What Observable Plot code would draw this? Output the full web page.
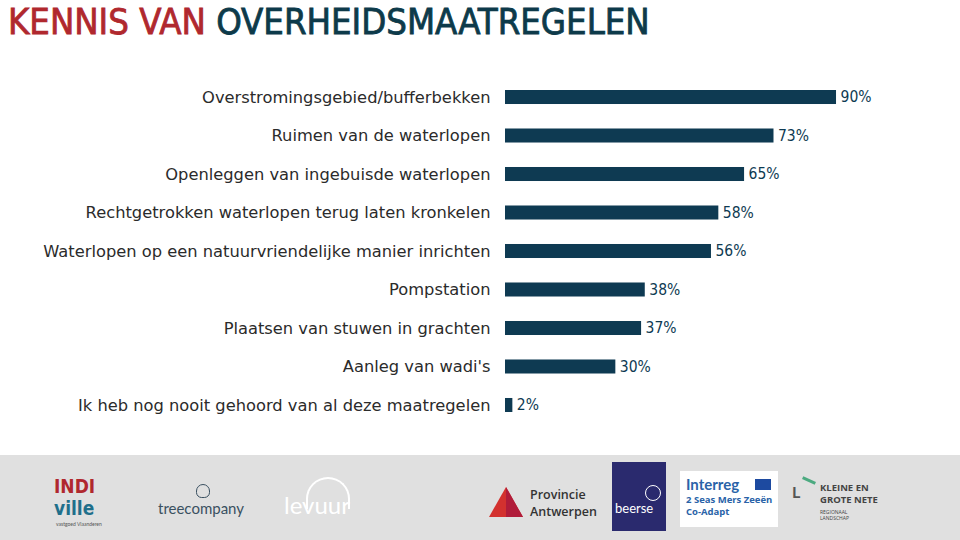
<!DOCTYPE html>
<html><head><meta charset="utf-8">
<script src="https://cdn.jsdelivr.net/npm/d3@7"></script>
<script src="https://cdn.jsdelivr.net/npm/@observablehq/plot@0.6"></script>
<style>
body{margin:0;width:960px;height:540px;overflow:hidden;background:#fff;position:relative;font-family:"DejaVu Sans",sans-serif}
#title{position:absolute;left:8px;top:0px;font-family:"DejaVu Sans Condensed",sans-serif;font-size:36.2px;line-height:normal;white-space:nowrap;-webkit-text-stroke:0.8px currentColor}
#chart{position:absolute;left:0;top:0}
#band{position:absolute;left:0;top:455px;width:960px;height:85px;background:#e0e0e0}
.lg{position:absolute;white-space:nowrap}
</style></head><body>
<div id="chart"></div>
<div id="title"><span style="color:#b0282e">KENNIS VAN</span> <span style="color:#0d3a4a">OVERHEIDSMAATREGELEN</span></div>
<div id="band">
  <div class="lg" style="left:54px;top:21px;font:bold 19px/20px 'DejaVu Sans Condensed';color:#b0282e">INDI</div>
  <div class="lg" style="left:54px;top:43px;font:bold 19px/20px 'DejaVu Sans Condensed';color:#1f6f8b">ville</div>
  <div class="lg" style="left:56px;top:66px;font:5px/6px Lato;color:#555">vastgoed Vlaanderen</div>
  <div class="lg" style="left:196px;top:29px;width:12px;height:12px;border:1.5px solid #3a5060;border-radius:50% 50% 40% 40%"></div>
  <div class="lg" style="left:158px;top:44px;font:15px/18px Lato;color:#3a5060">treecompany</div>
  <div class="lg" style="left:306px;top:22px;width:40px;height:30px;border:2px solid #fff;border-bottom:none;border-radius:22px 22px 0 0"></div>
  <div class="lg" style="left:284px;top:36px;font:24px/28px Lato;color:#fff">levuur</div>
  <svg class="lg" style="left:489px;top:32px" width="34" height="30"><polygon points="17,0 34,30 0,30" fill="#d3312f"/><polygon points="17,0 34,30 17,30" fill="#b01c3a"/></svg>
  <div class="lg" style="left:530px;top:31px;font:600 12.5px/17px 'Open Sans';color:#333">Provincie<br>Antwerpen</div>
  <div class="lg" style="left:612px;top:7px;width:54px;height:69px;background:#2a2a6e"></div>
  <div class="lg" style="left:615px;top:46px;font:13px/15px Lato;color:#fff">beerse</div>
  <div class="lg" style="left:645px;top:30px;width:14px;height:14px;border:1.5px solid #fff;border-radius:50%"></div>
  <div class="lg" style="left:680px;top:16px;width:98px;height:56px;background:#fff"></div>
  <div class="lg" style="left:686px;top:20px;font:bold 15px/18px Lato;color:#2a63a8">Interreg</div>
  <div class="lg" style="left:755px;top:24px;width:16px;height:11px;background:#1d4aa0"></div>
  <div class="lg" style="left:686px;top:39px;font:bold 9.5px/12px 'Open Sans';color:#2a63a8">2 Seas Mers Zeeën<br>Co-Adapt</div>
  <div class="lg" style="left:792px;top:28px;font:bold 16px/18px Lato;color:#555">L</div>
  <div class="lg" style="left:802px;top:24px;width:14px;height:3px;background:#4caa80;transform:rotate(25deg)"></div>
  <div class="lg" style="left:820px;top:27px;font:bold 9.5px/12px 'Open Sans';color:#444">KLEINE EN<br>GROTE NETE</div>
  <div class="lg" style="left:820px;top:54px;font:5px/6px 'Open Sans';color:#444">REGIONAAL<br>LANDSCHAP</div>
</div>
<script>
const categories = [
  "Overstromingsgebied/bufferbekken",
  "Ruimen van de waterlopen",
  "Openleggen van ingebuisde waterlopen",
  "Rechtgetrokken waterlopen terug laten kronkelen",
  "Waterlopen op een natuurvriendelijke manier inrichten",
  "Pompstation",
  "Plaatsen van stuwen in grachten",
  "Aanleg van wadi's",
  "Ik heb nog nooit gehoord van al deze maatregelen"
];
const values = [90, 73, 65, 58, 56, 38, 37, 30, 2];
const data = categories.map((c, i) => ({c, v: values[i]}));

const chart = Plot.plot({
  width: 960,
  height: 455,
  marginLeft: 505,
  marginRight: 87.2,
  marginTop: 70.75,
  marginBottom: 23.75,
  style: {fontFamily: "'DejaVu Sans', sans-serif", background: "transparent"},
  x: {domain: [0, 100], axis: null},
  y: {domain: categories, axis: null, paddingInner: 0.636, paddingOuter: 0.5, round: false},
  marks: [
    Plot.barX(data, {x: "v", y: "c", fill: "#0e3a52"}),
    Plot.text(data, {x: 0, y: "c", text: "c", textAnchor: "end", dx: -15, fontSize: 16.3, fill: "#2b2b2b"}),
    Plot.text(data, {x: "v", y: "c", text: d => d.v + "%", textAnchor: "start", dx: 4, fontSize: 15.5, fontFamily: "'DejaVu Sans Condensed', sans-serif", fill: "#0e3a52"})
  ]
});
document.getElementById("chart").appendChild(chart);
</script>
</body></html>
